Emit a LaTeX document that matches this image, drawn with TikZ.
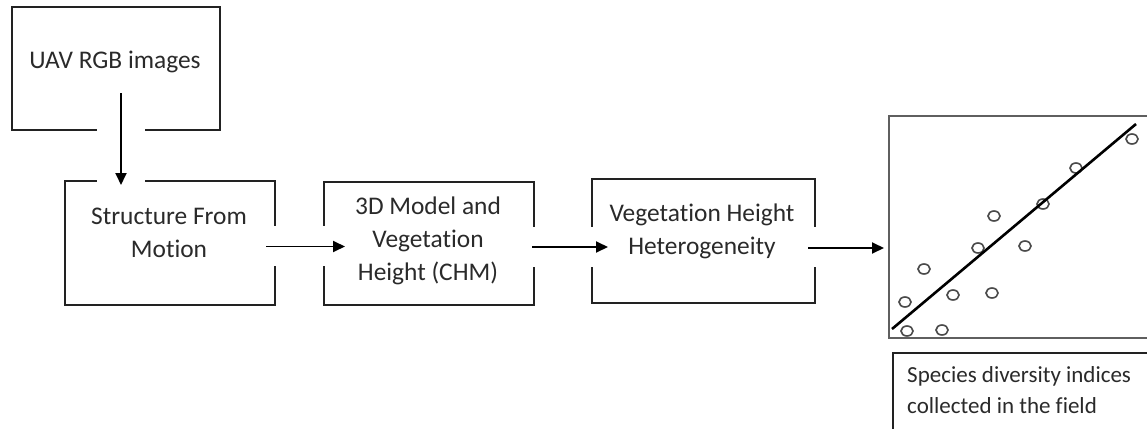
\documentclass[tikz,border=0pt]{standalone}
\usepackage{fontspec}
\setmainfont[RawFeature={-liga;-clig;-calt;-dlig}]{Carlito}
\usetikzlibrary{arrows.meta,shapes.geometric}
\definecolor{ink}{HTML}{2A2A2A}
\definecolor{edge}{HTML}{222222}
\tikzset{
  boxnode/.style={draw=edge, line width=2pt, rectangle, inner sep=0pt},
  txt/.style={text=ink, font=\fontsize{25.4}{33}\selectfont, align=center, inner sep=0pt},
  smalltxt/.style={text=ink, font=\fontsize{23}{30}\selectfont, align=left, inner sep=0pt, anchor=west},
  gapband/.style={white, line width=#1, line cap=butt},
  flow/.style={draw=black, line width=1.8pt, -{Triangle[length=12pt,width=11pt]}},
  dot/.style={draw=ink!85, line width=1.6pt, ellipse, minimum width=12pt, minimum height=10pt, inner sep=0pt}
}
\begin{document}
\begin{tikzpicture}[x=1pt,y=-1pt]
\useasboundingbox (0,0) rectangle (1147,428);
\fill[white] (0,0) rectangle (1147,428);
% boxes
\node[boxnode, minimum width=208pt, minimum height=123pt] (uav) at (116,68.5) {};
\node[boxnode, minimum width=210pt, minimum height=124pt] (sfm) at (170,243) {};
\node[boxnode, minimum width=210pt, minimum height=123pt] (chm) at (429,243.5) {};
\node[boxnode, minimum width=223pt, minimum height=124pt] (veg) at (703.5,241) {};
\begin{scope}
\clip (0,0) rectangle (1147,428);
\node[draw=ink!75, line width=2pt, rectangle, inner sep=0pt, minimum width=272pt, minimum height=222pt, anchor=north west] (plot) at (888,115) {};
\node[draw=edge, line width=2pt, rectangle, inner sep=0pt, minimum width=268pt, minimum height=90pt, anchor=north west] (spbox) at (892,352) {};
\end{scope}
% arrow end points
\coordinate (a1s) at (121,93);
\coordinate (a1e) at (121,185);
\coordinate (a2s) at (266,246.5);
\coordinate (a2e) at (345,246.5);
\coordinate (a3s) at (532,247);
\coordinate (a3e) at (608,247);
\coordinate (a4s) at (808,248);
\coordinate (a4e) at (884,248);
% gaps in box edges
\draw[gapband=48pt] (121,120) -- (121,140);
\draw[gapband=48pt] (121,172) -- (121,190);
\draw[gapband=40pt] (266,246) -- (284,246);
\draw[gapband=40pt] (316,246) -- (332,246);
\draw[gapband=40pt] (526,247) -- (542,247);
\draw[gapband=40pt] (584,247) -- (600,247);
\draw[gapband=40pt] (807,247) -- (823,247);
% texts
\node[txt] (t1) at (115,62) {UAV RGB images};
\node[txt] (t2) at (169,233) {Structure From\\Motion};
\node[txt] (t3) at (428,241) {3D Model and\\Vegetation\\Height (CHM)};
\node[txt] (t4) at (702,231.5) {Vegetation Height\\Heterogeneity};
\node[smalltxt] (t5) at (907,376) {Species diversity indices};
\node[smalltxt] (t6) at (907,406) {collected in the field};
% arrows
\draw[flow] (a1s) -- (a1e);
\draw[flow] (a2s) -- (a2e);
\draw[flow] (a3s) -- (a3e);
\draw[flow] (a4s) -- (a4e);
% scatter points
\foreach \n/\px/\py in {p1/905/302, p2/907/331, p3/924/269, p4/942/330, p5/953/295, p6/978/248, p7/992/293, p8/994/216, p9/1025/246, p10/1043/204, p11/1076/168, p12/1132/139}
  \node[dot] (\n) at (\px,\py) {};
% regression line
\coordinate (r1) at (892,329);
\coordinate (r2) at (1136,124);
\draw[black, line width=2.6pt] (r1) -- (r2);
\end{tikzpicture}
\end{document}
